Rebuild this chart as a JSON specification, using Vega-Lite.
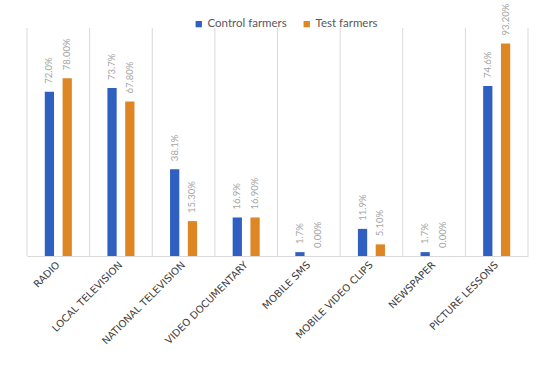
{
  "$schema": "https://vega.github.io/schema/vega-lite/v6.json",
  "width": 501,
  "height": 228,
  "autosize": "none",
  "padding": {"left": 27, "top": 28, "right": 22, "bottom": 123},
  "background": "white",
  "config": {
    "view": {"stroke": null},
    "font": "Lato"
  },
  "data": {
    "values": [
      {"category": "RADIO", "group": "Control farmers", "value": 72.0, "label": "72.0%"},
      {"category": "RADIO", "group": "Test farmers", "value": 78.0, "label": "78.00%"},
      {"category": "LOCAL TELEVISION", "group": "Control farmers", "value": 73.7, "label": "73.7%"},
      {"category": "LOCAL TELEVISION", "group": "Test farmers", "value": 67.8, "label": "67.80%"},
      {"category": "NATIONAL TELEVISION", "group": "Control farmers", "value": 38.1, "label": "38.1%"},
      {"category": "NATIONAL TELEVISION", "group": "Test farmers", "value": 15.3, "label": "15.30%"},
      {"category": "VIDEO DOCUMENTARY", "group": "Control farmers", "value": 16.9, "label": "16.9%"},
      {"category": "VIDEO DOCUMENTARY", "group": "Test farmers", "value": 16.9, "label": "16.90%"},
      {"category": "MOBILE SMS", "group": "Control farmers", "value": 1.7, "label": "1.7%"},
      {"category": "MOBILE SMS", "group": "Test farmers", "value": 0.0, "label": "0.00%"},
      {"category": "MOBILE VIDEO CLIPS", "group": "Control farmers", "value": 11.9, "label": "11.9%"},
      {"category": "MOBILE VIDEO CLIPS", "group": "Test farmers", "value": 5.1, "label": "5.10%"},
      {"category": "NEWSPAPER", "group": "Control farmers", "value": 1.7, "label": "1.7%"},
      {"category": "NEWSPAPER", "group": "Test farmers", "value": 0.0, "label": "0.00%"},
      {"category": "PICTURE LESSONS", "group": "Control farmers", "value": 74.6, "label": "74.6%"},
      {"category": "PICTURE LESSONS", "group": "Test farmers", "value": 93.2, "label": "93.20%"}
    ]
  },
  "layer": [
    {
      "transform": [{"filter": "datum.group === 'Control farmers'"}],
      "mark": {"type": "rule", "color": "#D9D9D9", "strokeWidth": 1},
      "encoding": {
        "x": {"field": "category", "type": "nominal", "sort": null, "bandPosition": 0}
      }
    },
    {
      "transform": [{"filter": "datum.group === 'Control farmers' && datum.category === 'PICTURE LESSONS'"}],
      "mark": {"type": "rule", "color": "#D9D9D9", "strokeWidth": 1},
      "encoding": {
        "x": {"field": "category", "type": "nominal", "sort": null, "bandPosition": 1}
      }
    },
    {
      "mark": {"type": "bar"},
      "encoding": {
        "x": {
          "field": "category",
          "type": "nominal",
          "sort": null,
          "scale": {"paddingInner": 0, "paddingOuter": 0},
          "axis": {
            "title": null,
            "domainColor": "#D9D9D9",
            "domainWidth": 1,
            "ticks": false,
            "grid": false,
            "labelAngle": -45,
            "labelAlign": "right",
            "labelBaseline": "middle",
            "labelPadding": 7,
            "labelColor": "#404040",
            "labelFont": "DejaVu Sans",
            "labelFontSize": 10
          }
        },
        "xOffset": {
          "field": "group",
          "type": "nominal",
          "scale": {"paddingInner": 0.48, "paddingOuter": 1.16}
        },
        "y": {
          "field": "value",
          "type": "quantitative",
          "scale": {"domain": [0, 100], "nice": false},
          "axis": null
        },
        "color": {
          "field": "group",
          "type": "nominal",
          "scale": {"domain": ["Control farmers", "Test farmers"], "range": ["#2F5FC0", "#DE8524"]},
          "legend": {
            "title": null,
            "orient": "none",
            "legendX": 166,
            "legendY": -10,
            "direction": "horizontal",
            "symbolType": "square",
            "symbolSize": 40,
            "symbolStrokeWidth": 0,
            "labelFontSize": 11.5,
            "labelColor": "#595959",
            "labelFont": "Lato",
            "labelOffset": 3,
            "columnPadding": 14,
            "padding": 0
          }
        }
      }
    },
    {
      "mark": {
        "type": "text",
        "angle": 270,
        "align": "left",
        "baseline": "middle",
        "dx": 8,
        "fontSize": 9.5,
        "color": "#A6A6A6",
        "font": "Lato"
      },
      "encoding": {
        "x": {"field": "category", "type": "nominal", "sort": null},
        "xOffset": {
          "field": "group",
          "type": "nominal",
          "scale": {"paddingInner": 0.48, "paddingOuter": 1.16}
        },
        "y": {"field": "value", "type": "quantitative"},
        "text": {"field": "label", "type": "nominal"}
      }
    }
  ]
}
